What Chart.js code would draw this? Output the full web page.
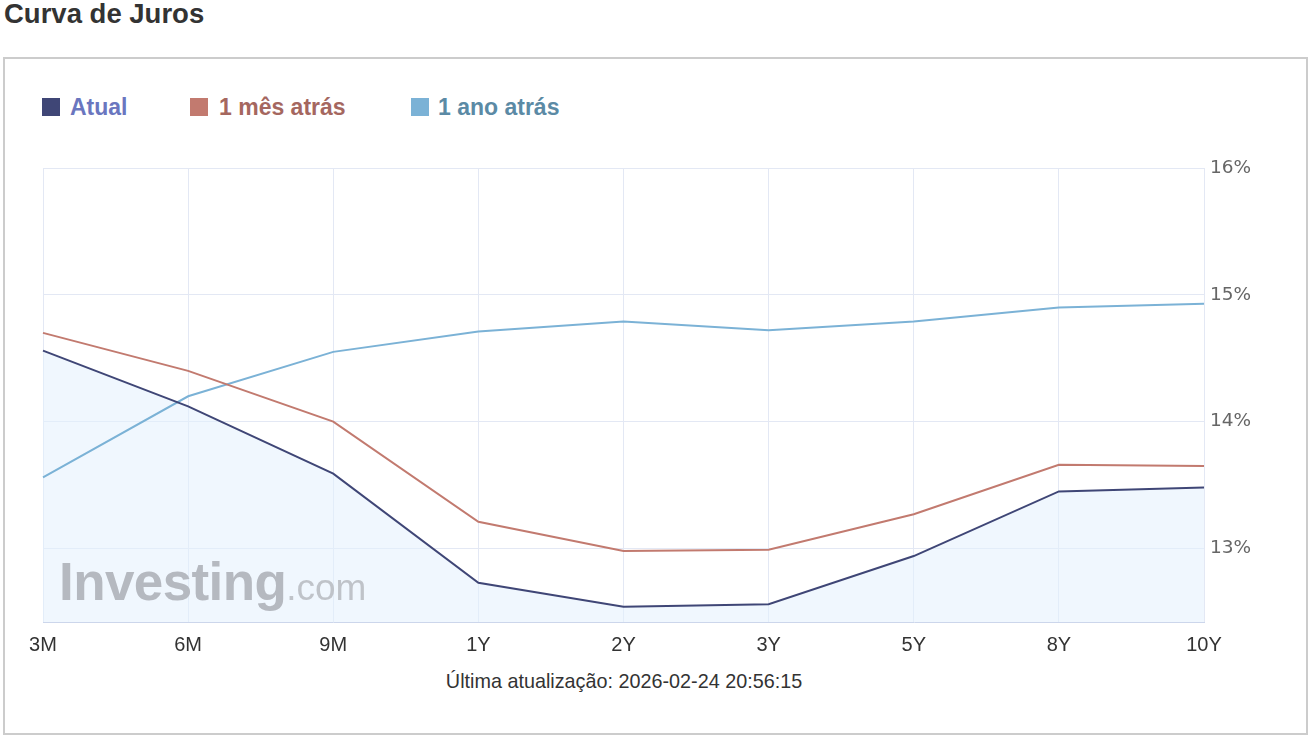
<!DOCTYPE html>
<html>
<head>
<meta charset="utf-8">
<script src="https://cdn.jsdelivr.net/npm/chart.js@4.4.1/dist/chart.umd.min.js"></script>
<style>
  html, body { margin:0; padding:0; background:#fff; }
  body { width:1312px; height:742px; position:relative; overflow:hidden; font-family:"Liberation Sans", Arial, sans-serif; }
  #title { position:absolute; left:4px; top:-2px; font-size:27.5px; font-weight:bold; color:#333; white-space:nowrap; }
  #box { position:absolute; left:3px; top:57px; width:1301px; height:674px; border:2px solid #ccc; box-sizing:content-box; }
  #legend { position:absolute; top:93px; left:0; height:28px; }
  .li { position:absolute; top:0; white-space:nowrap; font-size:23px; font-weight:bold; line-height:28px; }
  .mk { position:absolute; top:5px; width:18px; height:18px; }
  #wm { position:absolute; left:59px; top:551px; white-space:nowrap; pointer-events:none; z-index:3; }
  #wm .a { font-size:53px; font-weight:bold; color:#b5b9c0; letter-spacing:-0.6px; }
  #wm .b { font-size:37px; color:#bfc3c9; }
  #foot { position:absolute; left:0; width:1248px; top:670px; text-align:center; font-size:19.8px; color:#333; }
  canvas { position:absolute; left:0; top:0; z-index:2; }
</style>
</head>
<body>
<div id="title">Curva de Juros</div>
<div id="box"></div>
<div id="legend"></div>
<div id="wm"><span class="a">Investing</span><span class="b">.com</span></div>
<div id="foot">Última atualização: 2026-02-24 20:56:15</div>
<canvas id="c" width="1312" height="742"></canvas>
<script>
const categories = ["3M","6M","9M","1Y","2Y","3Y","5Y","8Y","10Y"];
const atual      = [14.56, 14.12, 13.59, 12.73, 12.54, 12.56, 12.94, 13.45, 13.48];
const umMes      = [14.70, 14.40, 14.00, 13.21, 12.98, 12.99, 13.27, 13.66, 13.65];
const umAno      = [13.56, 14.20, 14.55, 14.71, 14.79, 14.72, 14.79, 14.90, 14.93];
const yTicks     = [13, 14, 15, 16];
const seriesNames = ["Atual", "1 mês atrás", "1 ano atrás"];

const lineColors = ["#3f4676", "#c27a6f", "#7bb2d6"];
const textColors = ["#6a76bf", "#a5675f", "#5b8aa5"];
const legendX = [[42,70],[190,219],[411,438]];

const leg = document.getElementById('legend');
seriesNames.forEach((n,i)=>{
  const m = document.createElement('div'); m.className='mk';
  m.style.left = legendX[i][0]+'px'; m.style.background = lineColors[i];
  leg.appendChild(m);
  const t = document.createElement('div'); t.className='li';
  t.style.left = legendX[i][1]+'px'; t.style.color = textColors[i]; t.textContent = n;
  leg.appendChild(t);
});

const vals = [atual, umMes, umAno];
new Chart(document.getElementById('c'), {
  type: 'line',
  data: {
    labels: categories,
    datasets: vals.map((v,i)=>({
      label: seriesNames[i],
      data: v,
      borderColor: lineColors[i],
      borderWidth: 2,
      pointRadius: 0,
      tension: 0,
      fill: i===0 ? 'start' : false,
      backgroundColor: i===0 ? 'rgba(228,241,254,0.55)' : lineColors[i]
    }))
  },
  options: {
    responsive: false,
    animation: false,
    layout: { padding: { left: 43, top: 168, right: 38, bottom: 80 } },
    plugins: {
      legend: { display: false },
      tooltip: { enabled: false },
      filler: { drawTime: 'beforeDatasetsDraw' }
    },
    scales: {
      x: {
        offset: false,
        grid: { color: '#e3e8f4', drawTicks: false },
        border: { color: '#ccd6eb', width: 1 },
        ticks: { font: { family: 'Liberation Sans', size: 20 }, color: '#333', padding: 11, maxRotation: 0, autoSkip: false },
        afterFit: s => { s.height = 40; }
      },
      y: {
        position: 'right',
        min: 12.42, max: 16,
        grid: { color: '#e3e8f4', drawTicks: false },
        border: { display: false },
        afterBuildTicks: s => { s.ticks = yTicks.map(v=>({value:v})); },
        ticks: { font: { family: 'DejaVu Sans', size: 18.5 }, color: '#666', padding: 6, callback: v => v + '%' },
        afterFit: s => { s.width = 70; }
      }
    }
  }
});
</script>
</body>
</html>
